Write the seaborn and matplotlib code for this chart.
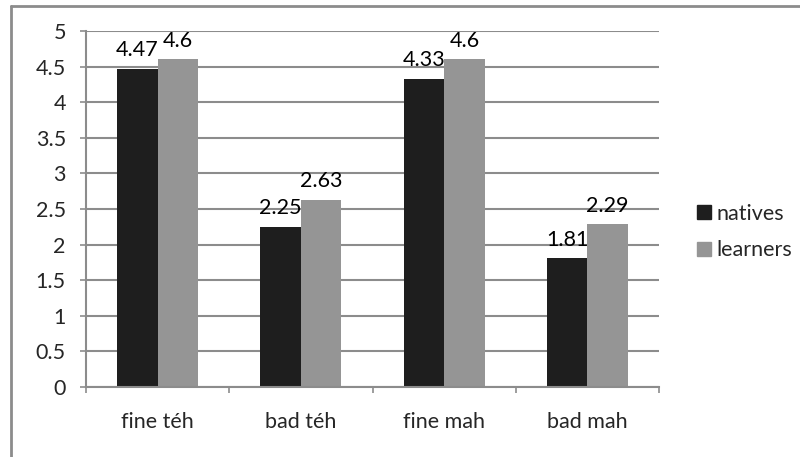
import matplotlib
matplotlib.use("Agg")
import matplotlib.pyplot as plt
import seaborn as sns
import pandas as pd
from matplotlib.lines import Line2D

categories = ["fine téh", "bad téh", "fine mah", "bad mah"]
natives = [4.47, 2.25, 4.33, 1.81]
learners = [4.6, 2.63, 4.6, 2.29]
series_names = ["natives", "learners"]
yticks = [0, 0.5, 1, 1.5, 2, 2.5, 3, 3.5, 4, 4.5, 5]
ytick_labels = ["0", "0.5", "1", "1.5", "2", "2.5", "3", "3.5", "4", "4.5", "5"]

df = pd.DataFrame({
    "category": categories * 2,
    "series": [series_names[0]] * 4 + [series_names[1]] * 4,
    "value": natives + learners,
})

sns.set_theme(style="white")
plt.rcParams["font.family"] = ["Lato", "DejaVu Sans"]

colors = {"natives": "#1e1e1e", "learners": "#959595"}
grid_c = "#8c8c8c"
fs = 15.5

fig = plt.figure(figsize=(8, 4.57), dpi=100)
ax = fig.add_axes([86 / 800, 1 - 387 / 457, (659 - 86) / 800, (387 - 31) / 457])

sns.barplot(data=df, x="category", y="value", hue="series", palette=colors,
            order=categories, hue_order=series_names, width=0.567,
            saturation=1, ax=ax, legend=False, edgecolor="none", linewidth=0)

ax.set_xlim(-0.5, len(categories) - 0.5)
ax.set_ylim(0, 5)
ax.set_yticks(yticks)
ax.set_yticklabels(ytick_labels)
ax.set_xlabel("")
ax.set_ylabel("")
ax.yaxis.grid(True, color=grid_c, linewidth=1.5)
ax.set_axisbelow(True)
for s in ["top", "right"]:
    ax.spines[s].set_visible(False)
for s in ["left", "bottom"]:
    ax.spines[s].set_color(grid_c)
    ax.spines[s].set_linewidth(1.5)

ax.tick_params(axis="y", length=4.5, width=1.2, color=grid_c, labelsize=fs, pad=10,
               left=True, direction="out")
ax.tick_params(axis="x", length=0, labelsize=fs, pad=18)
ax.set_xticks([i + 0.5 for i in range(-1, len(categories))], minor=True)
ax.tick_params(axis="x", which="minor", length=4.5, width=1.2, color=grid_c,
               bottom=True, direction="out")

for cont in ax.containers:
    ax.bar_label(cont, labels=[f"{v:g}" for v in cont.datavalues],
                 fontsize=fs, padding=6, color="#000000")

handles = [Line2D([0], [0], marker="s", linestyle="", markersize=10,
                  markerfacecolor=colors[n], markeredgecolor=colors[n]) for n in series_names]
fig.legend(handles, series_names, loc="center left",
           bbox_to_anchor=(679 / 800, 1 - 232 / 457), frameon=False,
           fontsize=fs, handletextpad=0.15, labelspacing=0.75, handlelength=0.9,
           borderpad=0.2)

fig.add_artist(Line2D([11 / 800, 11 / 800], [0, 1 - 6 / 457], transform=fig.transFigure,
                      color="#8c8c8c", linewidth=2))
fig.add_artist(Line2D([11 / 800, 1], [1 - 6 / 457, 1 - 6 / 457], transform=fig.transFigure,
                      color="#8c8c8c", linewidth=2))

fig.savefig("out.png", dpi=100)
